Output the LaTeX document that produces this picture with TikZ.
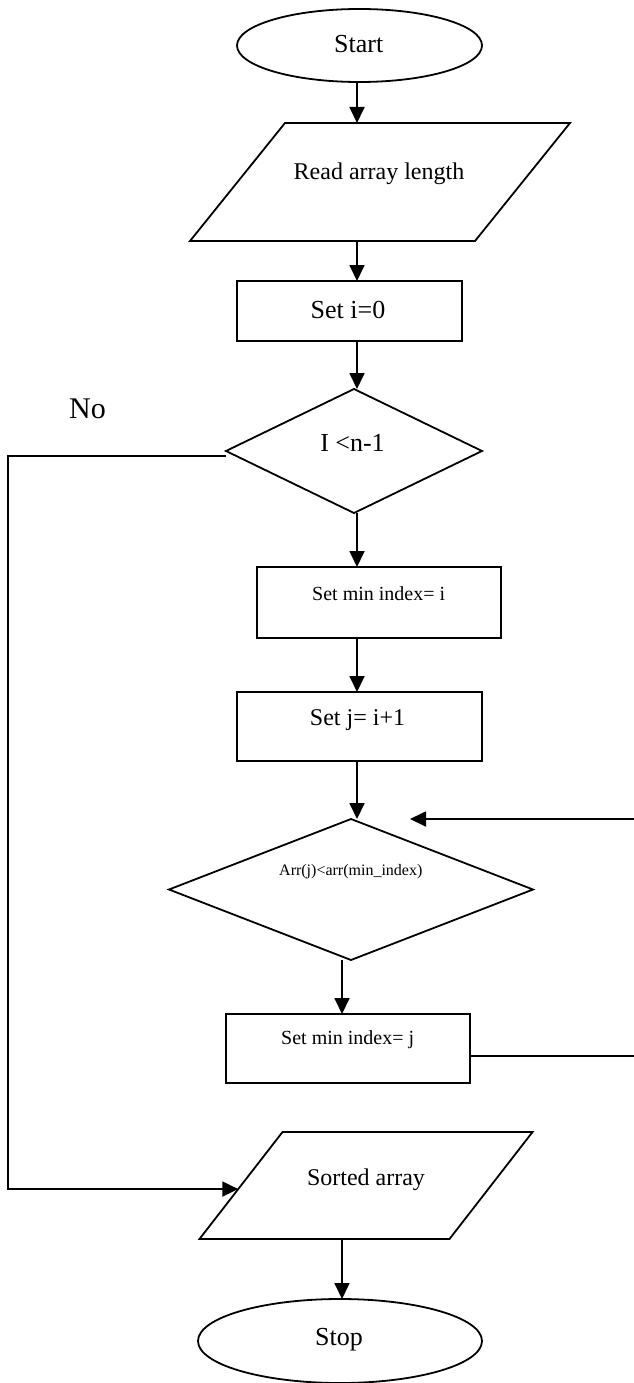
\documentclass[tikz,border=0pt]{standalone}
\usepackage{fontspec}
\setmainfont{Liberation Serif}
\usetikzlibrary{shapes.geometric,arrows.meta,calc}
\newcommand\fsz[1]{\fontsize{#1}{#1}\selectfont}
\begin{document}
\begin{tikzpicture}[x=1pt,y=-1pt,
  line width=1.8pt,
  shp/.style={draw, inner sep=0pt, outer sep=0pt},
  oval/.style={shp, ellipse},
  box/.style={shp, rectangle},
  dia/.style={shp, diamond},
  para/.style={shp, rectangle},
  lbl/.style={anchor=base, inner sep=0pt, outer sep=0pt},
  arr/.style={-{Triangle[length=16pt,width=15pt]}}
]
\useasboundingbox (0,0) rectangle (633,1383);
% shapes
\node[oval, minimum width=245pt, minimum height=73pt] (start) at (359.5,45.5) {};
\node[para, xslant=0.805, minimum width=285pt, minimum height=118pt] (read) at (380,182) {};
\node[box, minimum width=225pt, minimum height=60pt] (seti) at (349.5,311) {};
\node[dia, minimum width=256pt, minimum height=124pt] (d1) at (354,451) {};
\node[box, minimum width=244pt, minimum height=71pt] (mi) at (379,602.5) {};
\node[box, minimum width=245pt, minimum height=69pt] (sj) at (359.5,726.5) {};
\node[dia, minimum width=364pt, minimum height=141pt] (d2) at (351,889.5) {};
\node[box, minimum width=244pt, minimum height=69pt] (mj) at (348,1048.5) {};
\node[para, xslant=0.776, minimum width=250pt, minimum height=107pt] (sorted) at (366,1185.5) {};
\node[oval, minimum width=284pt, minimum height=84pt] (stop) at (340,1341) {};
% texts
\node[lbl, font=\fsz{26}] (tstart) at (358.7,52.7) {Start};
\node[lbl, font=\fsz{24}] (tread) at (379,179) {Read array length};
\node[lbl, font=\fsz{26}] (tseti) at (348,318) {Set i=0};
\node[lbl, font=\fsz{30}] (tno) at (87.5,418) {No};
\node[lbl, font=\fsz{26}] (td1) at (352.5,451) {I <n-1};
\node[lbl, font=\fsz{20}] (tmi) at (378.7,600.7) {Set min index= i};
\node[lbl, font=\fsz{24}] (tsj) at (357.5,725) {Set j= i+1};
\node[lbl, font=\fsz{16}] (td2) at (350.8,875) {Arr(j)<arr(min\_index)};
\node[lbl, font=\fsz{20}] (tmj) at (347.7,1044) {Set min index= j};
\node[lbl, font=\fsz{24}] (tsorted) at (366,1185) {Sorted array};
\node[lbl, font=\fsz{26}] (tstop) at (339,1345) {Stop};
% helper coordinates
\coordinate (c) at (357,0);
\coordinate (c3) at (342,0);
\coordinate (L) at (8,0);
\coordinate (R) at (637,0);
\coordinate (back) at (410,819);
\coordinate (Lend) at ($(sorted.south west)!0.467!(sorted.north west)$);
% connectors
\draw[arr] (start.south -| c) -- (read.north -| c);
\draw[arr] (read.south -| c) -- (seti.north -| c);
\draw[arr] (seti.south -| c) -- (d1.north -| c);
\draw[arr] (d1.south -| c) -- (mi.north -| c);
\draw[arr] (mi.south -| c) -- (sj.north -| c);
\draw[arr] (sj.south -| c) -- (d2.north -| c);
\draw[arr] (d2.south -| c3) -- (mj.north -| c3);
\draw[arr] (sorted.south -| c3) -- (stop.north -| c3);
\draw[arr] ([yshift=-5pt]d1.west) -- ([yshift=-5pt]d1.west -| L) -- (L |- Lend) -- (Lend);
\draw[arr] ([yshift=-7.5pt]mj.east) -- ([yshift=-7.5pt]mj.east -| R) -- (R |- back) -- (back);
\end{tikzpicture}
\end{document}
